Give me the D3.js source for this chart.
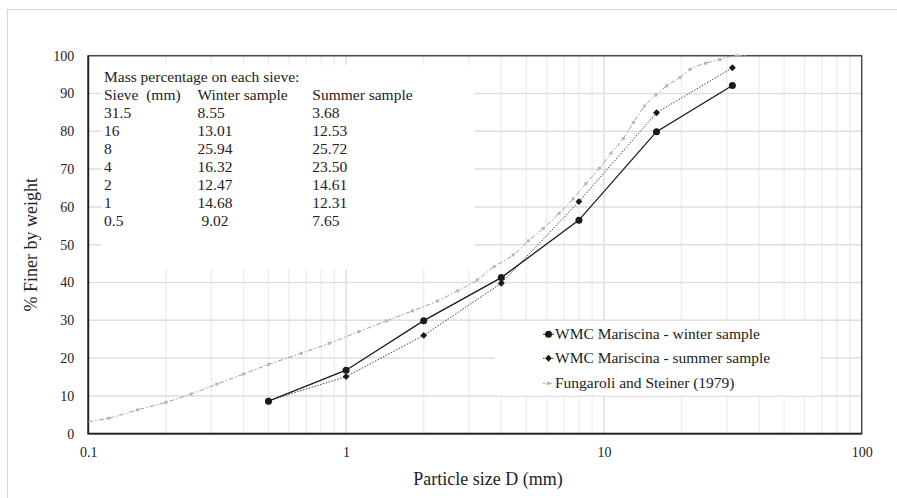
<!DOCTYPE html>
<html>
<head>
<meta charset="utf-8">
<script src="https://cdn.jsdelivr.net/npm/d3@7"></script>
<style>
  html, body { margin: 0; padding: 0; background: #fff; }
  svg text { font-family: "Liberation Serif", "Times New Roman", serif; fill: #222; white-space: pre; }
</style>
</head>
<body>
<div id="chart"></div>
<script>
// Grain size distribution, log x axis.

const sieveSizes  = [0.5, 1, 2, 4, 8, 16, 31.5];
const winterFiner = [8.6, 16.8, 29.9, 41.3, 56.5, 79.9, 92.1];
const summerFiner = [8.7, 15.1, 26.0, 39.8, 61.4, 84.9, 96.8];

const fungSizes = [0.1, 0.12, 0.155, 0.2, 0.25, 0.315, 0.4, 0.5, 0.67, 0.86, 1.12, 1.43, 1.81, 2.26, 2.71, 3.23,
                   3.75, 4.45, 5.09, 5.82, 6.7, 7.59, 8.52, 9.6, 10.65, 11.9, 13.0, 14.4, 15.9, 17.5, 19.7, 21.6,
                   24.8, 28.2, 32.7, 35.8];
const fungFiner = [3.2, 4.1, 6.3, 8.3, 10.5, 13.1, 15.8, 18.3, 21.3, 23.9, 27.0, 29.8, 32.5, 35.1, 37.8, 40.7,
                   44.2, 47.3, 51.0, 54.3, 58.3, 62.1, 66.2, 70.2, 74.2, 78.1, 82.3, 86.7, 89.6, 92.0, 94.2, 96.4,
                   98.0, 99.0, 100, 100];

const yTicks = [0, 10, 20, 30, 40, 50, 60, 70, 80, 90, 100];
const xTicks = [0.1, 1, 10, 100];

const tableTitle   = "Mass percentage on each sieve:";
const tableHeader  = ["Sieve  (mm)", "Winter sample", "Summer sample"];
const tableSieve   = ["31.5", "16", "8", "4", "2", "1", "0.5"];
const tableWinter  = ["8.55", "13.01", "25.94", "16.32", "12.47", "14.68", " 9.02"];
const tableSummer  = ["3.68", "12.53", "25.72", "23.50", "14.61", "12.31", "7.65"];

const legendLabels = ["WMC Mariscina - winter sample", "WMC Mariscina - summer sample", "Fungaroli and Steiner (1979)"];

const W = 897, H = 498;
const M = { left: 88.3, right: 897 - 861.7, top: 55.7, bottom: 498 - 433.7 };

const svg = d3.select("#chart").append("svg").attr("width", W).attr("height", H);

// outer chart frame (only top/left edges visible in the picture)
svg.append("rect").attr("x", 7.5).attr("y", 9.5).attr("width", 1200).attr("height", 1200)
  .attr("fill", "none").attr("stroke", "#d9d9d9");

const x = d3.scaleLog().domain([0.1, 100]).range([M.left, W - M.right]);
const y = d3.scaleLinear().domain([0, 100]).range([H - M.bottom, M.top]);

// ---------- grid ----------
const gGrid = svg.append("g");
const minor = [];
for (let d = 0.1; d < 100; d *= 10) for (let k = 2; k <= 9; k++) minor.push(d * k);
gGrid.selectAll("line.minor").data(minor).enter().append("line")
  .attr("x1", d => x(d)).attr("x2", d => x(d))
  .attr("y1", y(0)).attr("y2", y(100))
  .attr("stroke", "#ececec").attr("stroke-width", 1.2);
gGrid.selectAll("line.major").data([1, 10]).enter().append("line")
  .attr("x1", d => x(d)).attr("x2", d => x(d))
  .attr("y1", y(0)).attr("y2", y(100))
  .attr("stroke", "#e2e2e2").attr("stroke-width", 1.6);
gGrid.selectAll("line.h").data(yTicks.slice(1)).enter().append("line")
  .attr("x1", x(0.1)).attr("x2", x(100))
  .attr("y1", d => y(d)).attr("y2", d => y(d))
  .attr("stroke", "#dedede").attr("stroke-width", 1.5);

// white boxes behind the text table and the legend
svg.append("rect").attr("x", 101).attr("y", 65).attr("width", 374).attr("height", 204).attr("fill", "#fff");
svg.append("rect").attr("x", 494).attr("y", 321.5).attr("width", 327).attr("height", 74).attr("fill", "#fff");

// ---------- axes ----------
const yAxis = svg.append("g").attr("transform", `translate(${M.left},0)`)
  .call(d3.axisLeft(y).tickValues(yTicks).tickSize(0).tickPadding(14));
yAxis.select(".domain").remove();
yAxis.selectAll("text").attr("font-size", 14).style("font-family", "Liberation Serif").attr("fill", "#222");

const xAxis = svg.append("g").attr("transform", `translate(0,${H - M.bottom})`)
  .call(d3.axisBottom(x).tickValues(xTicks).tickFormat(d3.format("~g")).tickSize(0).tickPadding(13));
xAxis.select(".domain").remove();
xAxis.selectAll("text").attr("font-size", 14).style("font-family", "Liberation Serif").attr("fill", "#222");

svg.append("rect").attr("x", x(0.1)).attr("y", y(100))
  .attr("width", x(100) - x(0.1)).attr("height", y(0) - y(100))
  .attr("fill", "none").attr("stroke", "#4a4a4a").attr("stroke-width", 1.5);
svg.append("path").attr("d", `M${x(0.1)},${y(100)}V${y(0)}H${x(100)}`)
  .attr("fill", "none").attr("stroke", "#222").attr("stroke-width", 1.8);

svg.append("text").attr("x", 488).attr("y", 485).attr("text-anchor", "middle")
  .attr("font-size", 18).text("Particle size D (mm)");
svg.append("text").attr("transform", `translate(37,${(y(0) + y(100)) / 2}) rotate(-90)`)
  .attr("text-anchor", "middle").attr("font-size", 18).text("% Finer by weight");

// ---------- series ----------
const line = d3.line().x(d => x(d[0])).y(d => y(d[1]));
const fung = d3.zip(fungSizes, fungFiner);
const winter = d3.zip(sieveSizes, winterFiner);
const summer = d3.zip(sieveSizes, summerFiner);

svg.append("path").datum(fung).attr("d", line.curve(d3.curveMonotoneX))
  .attr("fill", "none").attr("stroke", "#a0a0a0").attr("stroke-width", 1)
  .attr("stroke-dasharray", "5,2,1.5,2");
svg.selectAll("rect.fm").data(fung.slice(1, -1)).enter().append("rect")
  .attr("x", d => x(d[0]) - 1.5).attr("y", d => y(d[1]) - 1.5)
  .attr("width", 3).attr("height", 3).attr("fill", "#b5b5b5");

svg.append("path").datum(summer).attr("d", line.curve(d3.curveLinear))
  .attr("fill", "none").attr("stroke", "#444").attr("stroke-width", 1)
  .attr("stroke-dasharray", "1.5,1.5");
svg.append("path").datum(winter).attr("d", line.curve(d3.curveLinear))
  .attr("fill", "none").attr("stroke", "#1a1a1a").attr("stroke-width", 1.3);

const diamond = d3.symbol().type(d3.symbolDiamond2).size(30);
svg.selectAll("path.sm").data(summer).enter().append("path")
  .attr("transform", d => `translate(${x(d[0])},${y(d[1])})`)
  .attr("d", diamond).attr("fill", "#1a1a1a");
svg.selectAll("circle.wm").data(winter).enter().append("circle")
  .attr("cx", d => x(d[0])).attr("cy", d => y(d[1])).attr("r", 3.5).attr("fill", "#1a1a1a");

// ---------- text table ----------
const gT = svg.append("g").attr("font-size", 15.5);
const colX = [104, 197.5, 312.3];
const rowY = i => 82 + 18 * i;
gT.append("text").attr("x", colX[0]).attr("y", rowY(0)).text(tableTitle);
tableHeader.forEach((t, j) => gT.append("text").attr("x", colX[j]).attr("y", rowY(1)).text(t));
[tableSieve, tableWinter, tableSummer].forEach((col, j) =>
  col.forEach((t, i) => gT.append("text").attr("x", colX[j]).attr("y", rowY(i + 2)).text(t)));

// ---------- legend ----------
const gL = svg.append("g");
const legY = [334.3, 358.3, 383.3];
legendLabels.forEach((t, i) => {
  const cy = legY[i];
  gL.append("line").attr("x1", 543).attr("x2", 554).attr("y1", cy).attr("y2", cy)
    .attr("stroke", i === 2 ? "#a0a0a0" : "#333").attr("stroke-width", 1)
    .attr("stroke-dasharray", i === 0 ? null : (i === 1 ? "1.5,1.5" : "2,1.5"));
  if (i === 0) gL.append("circle").attr("cx", 548.5).attr("cy", cy).attr("r", 3.5).attr("fill", "#1a1a1a");
  else if (i === 1) gL.append("path").attr("transform", `translate(548.5,${cy})`).attr("d", diamond).attr("fill", "#1a1a1a");
  else gL.append("rect").attr("x", 547).attr("y", cy - 1.5).attr("width", 3).attr("height", 3).attr("fill", "#b5b5b5");
  gL.append("text").attr("x", 555).attr("y", cy + 5).attr("font-size", 15.5).text(t);
});
</script>
</body>
</html>
